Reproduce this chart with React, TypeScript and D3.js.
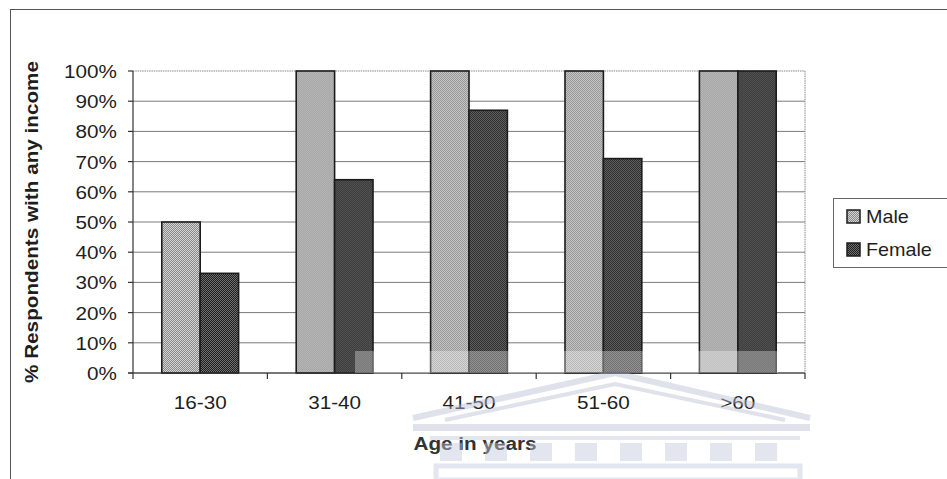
import React from "react";
import * as d3 from "d3";

// Share of respondents reporting any income, by age group and sex
const categories = ["16-30", "31-40", "41-50", "51-60", ">60"];
const seriesNames = ["Male", "Female"];
const maleValues = [50, 100, 100, 100, 100];
const femaleValues = [33, 64, 87, 71, 100];
const yTickValues = [0, 10, 20, 30, 40, 50, 60, 70, 80, 90, 100];

const W = 947;
const H = 479;
const plot = { left: 133, right: 805, top: 71, bottom: 373 };
const FONT = "'Liberation Sans', Arial, Helvetica, sans-serif";
const TEXT = "#1e1e1e";
const SX = 1.09; // text is slightly wider than tall

export default function App() {
  const x0 = d3
    .scaleBand<string>()
    .domain(categories)
    .range([plot.left, plot.right])
    .padding(0);
  // Excel-style gap width of 150% between groups
  const x1 = d3
    .scaleBand<string>()
    .domain(seriesNames)
    .range([0, x0.bandwidth()])
    .paddingInner(0)
    .paddingOuter(0.75);
  const y = d3.scaleLinear().domain([0, 100]).range([plot.bottom, plot.top]);

  const rows = categories.map((c, i) => ({
    cat: c,
    values: [
      { s: "Male", v: maleValues[i] },
      { s: "Female", v: femaleValues[i] },
    ],
  }));
  const fillFor = (s: string) => (s === "Male" ? "url(#patMale)" : "url(#patFemale)");
  const boundaries = [...categories.map((c) => x0(c)!), plot.right];

  return (
    <svg
      width={W}
      height={H}
      viewBox={`0 0 ${W} ${H}`}
      style={{ position: "absolute", left: 0, top: 0, background: "#fff" }}
    >
      <defs>
        <pattern id="patMale" width="2" height="2" patternUnits="userSpaceOnUse">
          <rect width="2" height="2" fill="#d2d2d2" />
          <rect x="0" y="0" width="1" height="1" fill="#8a8a8a" />
          <rect x="1" y="1" width="1" height="1" fill="#8a8a8a" />
        </pattern>
        <pattern id="patFemale" width="2" height="2" patternUnits="userSpaceOnUse">
          <rect width="2" height="2" fill="#6e6e6e" />
          <rect x="0" y="0" width="1" height="1" fill="#202020" />
          <rect x="1" y="1" width="1" height="1" fill="#202020" />
        </pattern>
      </defs>

      <rect x={0} y={0} width={W} height={H} fill="#fff" />
      {/* chart frame */}
      <rect x={10.5} y={9.5} width={980} height={520} fill="none" stroke="#555" strokeWidth={1} />

      {/* gridlines */}
      {yTickValues.map((t) => (
        <line
          key={`g${t}`}
          x1={plot.left}
          x2={plot.right}
          y1={y(t)}
          y2={y(t)}
          stroke={t === 100 ? "#888" : "#7a7a7a"}
          strokeWidth={1}
          strokeDasharray={t === 100 ? "1.5 0.8" : undefined}
        />
      ))}
      {/* right edge of plot area */}
      <line
        x1={plot.right}
        x2={plot.right}
        y1={plot.top}
        y2={plot.bottom}
        stroke="#888"
        strokeDasharray="1.5 0.8"
      />

      {/* bars */}
      {rows.map((r) => (
        <g key={r.cat} transform={`translate(${x0(r.cat)},0)`}>
          {r.values.map((d) => (
            <rect
              key={d.s}
              x={x1(d.s)}
              y={y(d.v)}
              width={x1.bandwidth()}
              height={y(0) - y(d.v)}
              fill={fillFor(d.s)}
              stroke="#1c1c1c"
              strokeWidth={1.6}
            />
          ))}
        </g>
      ))}

      {/* axes */}
      <line x1={plot.left} x2={plot.left} y1={plot.top} y2={plot.bottom} stroke="#333" strokeWidth={1.2} />
      <line x1={plot.left - 5} x2={plot.right} y1={plot.bottom} y2={plot.bottom} stroke="#333" strokeWidth={1.2} />
      {yTickValues.map((t) => (
        <g key={`yt${t}`}>
          <line x1={plot.left - 5} x2={plot.left} y1={y(t)} y2={y(t)} stroke="#333" strokeWidth={1.2} />
          <g transform={`translate(${plot.left - 16},${y(t) + 7}) scale(${SX},1)`}>
            <text textAnchor="end" fontFamily={FONT} fontSize={19} fill={TEXT}>
              {`${t}%`}
            </text>
          </g>
        </g>
      ))}
      {boundaries.map((bx, i) => (
        <line key={`xt${i}`} x1={bx} x2={bx} y1={plot.bottom} y2={plot.bottom + 6} stroke="#333" strokeWidth={1.2} />
      ))}
      {categories.map((c) => (
        <g key={`xl${c}`} transform={`translate(${x0(c)! + x0.bandwidth() / 2},409) scale(${SX},1)`}>
          <text textAnchor="middle" fontFamily={FONT} fontSize={19} fill={TEXT}>
            {c}
          </text>
        </g>
      ))}

      {/* axis titles */}
      <g transform={`translate(38,${(plot.top + plot.bottom) / 2}) rotate(-90) scale(${SX},1)`}>
        <text textAnchor="middle" fontFamily={FONT} fontSize={19} fontWeight="bold" fill={TEXT}>
          % Respondents with any income
        </text>
      </g>
      <g transform={`translate(${(plot.left + plot.right) / 2 + 6},450) scale(${SX},1)`}>
        <text textAnchor="middle" fontFamily={FONT} fontSize={19} fontWeight="bold" fill="#333">
          Age in years
        </text>
      </g>

      {/* legend */}
      <rect x={833.5} y={198.5} width={130} height={69} fill="#fff" stroke="#666" strokeWidth={1} />
      {seriesNames.map((s, i) => (
        <g key={`lg${s}`} transform={`translate(847,${210 + i * 33})`}>
          <rect x={0} y={0} width={13} height={13} fill={fillFor(s)} stroke="#1c1c1c" strokeWidth={1.5} />
          <g transform={`translate(19,13) scale(1.04,1)`}>
            <text fontFamily={FONT} fontSize={19} fill={TEXT}>
              {s}
            </text>
          </g>
        </g>
      ))}

      {/* faint crest printed behind the lower part of the page */}
      <g opacity={0.45}>
        <rect x={355} y={351} width={423} height={22} fill="#ffffff" opacity={0.7} />
        <path d="M413,418 L615,373 L810,418" fill="none" stroke="#b9bfd3" strokeWidth={6} />
        <path d="M445,420 L615,384 L785,420" fill="none" stroke="#b9bfd3" strokeWidth={4} />
        <rect x={413} y={424} width={397} height={7} fill="#b9bfd3" />
        <rect x={430} y={436} width={370} height={4} fill="#c6cbdc" />
        {[0, 1, 2, 3, 4, 5, 6, 7].map((k) => (
          <rect key={`col${k}`} x={440 + k * 45} y={443} width={22} height={18} fill="#c3c8da" />
        ))}
        <rect x={436} y={466} width={364} height={14} fill="none" stroke="#c3c8da" strokeWidth={5} />
      </g>
    </svg>
  );
}
